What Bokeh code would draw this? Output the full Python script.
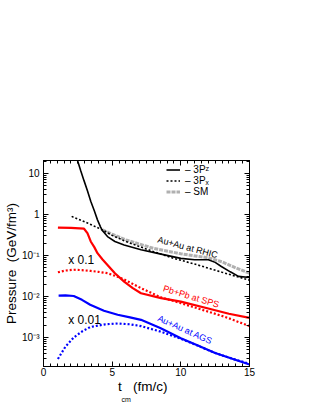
from bokeh.plotting import figure
from bokeh.models import (FixedTicker, LinearAxis, LogAxis, Range1d, Label,
                          Legend, LegendItem, CustomJSTickFormatter, Title)
from bokeh.embed import file_html
from bokeh.resources import INLINE
import math

FONT = "Liberation Sans"

# ---- data ----
rhic_3pz_t = [2.4, 2.7, 2.95, 3.2, 3.44, 3.7, 3.93, 4.15, 4.3, 4.66, 5.2, 5.87, 7.1, 8.56, 10, 11, 12, 12.5, 12.95, 13.6, 14.2, 15]
rhic_3pz_p = [25, 12, 6.7, 3.8, 2.1, 1.23, 0.74, 0.5, 0.40, 0.29, 0.22, 0.18, 0.138, 0.108, 0.085, 0.079, 0.079, 0.068, 0.054, 0.04, 0.031, 0.029]

rhic_3px_t = [2.05, 3.2, 4.3, 5.0, 6.0, 7.0, 8.0, 9.5, 11, 13, 15]
rhic_3px_p = [0.9, 0.62, 0.42, 0.31, 0.22, 0.165, 0.125, 0.085, 0.062, 0.039, 0.025]

rhic_sm_t = [4.3, 5.0, 6.0, 7.0, 8.0, 10, 12, 13, 14, 15]
rhic_sm_p = [0.42, 0.33, 0.24, 0.19, 0.15, 0.11, 0.088, 0.07, 0.05, 0.037]

sps_3pz_t = [1.05, 2.0, 2.95, 3.2, 3.44, 3.7, 3.93, 4.3, 4.66, 5.2, 5.87, 6.5, 7.1, 8.56, 10, 12, 13.5, 15]
sps_3pz_p = [0.48, 0.47, 0.45, 0.35, 0.22, 0.16, 0.114, 0.08, 0.059, 0.037, 0.023, 0.016, 0.012, 0.0091, 0.0075, 0.0051, 0.0038, 0.003]

sps_3px_t = [1.05, 1.6, 2.2, 2.8, 3.44, 4.0, 4.66, 5.2, 5.87, 7.1, 8.56, 10, 11.5, 13.2, 15]
sps_3px_p = [0.039, 0.043, 0.045, 0.044, 0.042, 0.04, 0.037, 0.032, 0.026, 0.016, 0.0095, 0.0069, 0.0048, 0.0032, 0.0019]

ags_3pz_t = [1.1, 1.6, 2.2, 2.8, 3.4, 4.4, 5.4, 6.3, 7.1, 8.5, 10, 11.2, 12.5, 13.8, 15]
ags_3pz_p = [0.0105, 0.0106, 0.0103, 0.0083, 0.0063, 0.0045, 0.0036, 0.0031, 0.0027, 0.0017, 0.00096, 0.00065, 0.00042, 0.0003, 0.00022]

ags_3px_t = [1.05, 1.6, 2.2, 2.8, 3.4, 4.5, 5.4, 6.3, 7.1, 8.5, 10, 11.5, 12.5, 13.8, 15]
ags_3px_p = [0.0003, 0.0006, 0.001, 0.0014, 0.0018, 0.0021, 0.0022, 0.0021, 0.0019, 0.0014, 0.00093, 0.00058, 0.00042, 0.0003, 0.00023]

x_ticks = [0, 5, 10, 15]
x_minor = [i * 0.5 for i in range(31)]
y_ticks = [1e-3, 1e-2, 1e-1, 1, 10]
y_tick_labels = {1e-3: "10\u207b\u00b3", 1e-2: "10\u207b\u00b2", 1e-1: "10\u207b\u00b9", 1: "1", 10: "10"}
y_minor = [m * 10.0 ** e for e in range(-4, 2) for m in range(1, 10)]

NB = "\u00a0"

# ---- figure ----
p = figure(width=300, height=409, output_backend="svg", toolbar_location=None,
           x_range=Range1d(0, 15), y_range=Range1d(10 ** -3.707, 10 ** 1.317),
           y_axis_type="log", min_border_left=43, min_border_right=51,
           min_border_top=160, min_border_bottom=43)
p.background_fill_color = "white"
p.border_fill_color = "white"
p.outline_line_color = "black"
p.outline_line_width = 1
p.xgrid.visible = False
p.ygrid.visible = False

def style_axis(ax, ticker, labels=True):
    ax.ticker = ticker
    ax.major_tick_in = 5
    ax.major_tick_out = 0
    ax.minor_tick_in = 3
    ax.minor_tick_out = 0
    ax.axis_line_color = "black"
    ax.major_tick_line_color = "black"
    ax.minor_tick_line_color = "black"
    ax.major_label_text_font = FONT
    ax.major_label_text_font_size = "10px"
    ax.major_label_text_color = "black"
    if not labels:
        ax.formatter = CustomJSTickFormatter(code="return '';")

xa = p.xaxis[0]
style_axis(xa, FixedTicker(ticks=x_ticks, minor_ticks=x_minor))
xa.major_label_standoff = 1
xa.axis_label = "t" + NB * 3 + "(fm/c)" + NB * 2
xa.axis_label_text_font = FONT
xa.axis_label_text_font_style = "normal"
xa.axis_label_text_font_size = "13.5px"
xa.axis_label_text_color = "black"
xa.axis_label_standoff = 0

ya = p.yaxis[0]
style_axis(ya, FixedTicker(ticks=y_ticks, minor_ticks=y_minor))
ya.major_label_overrides = y_tick_labels
ya.major_label_standoff = 4

top = LinearAxis()
style_axis(top, FixedTicker(ticks=x_ticks, minor_ticks=x_minor), labels=False)
p.add_layout(top, "above")
right = LogAxis()
style_axis(right, FixedTicker(ticks=y_ticks, minor_ticks=y_minor), labels=False)
p.add_layout(right, "right")

# subscript of the x title and the y title (side panels)
p.add_layout(Title(text="cm", align="left", offset=78, standoff=-13, text_color="black",
                   text_font=FONT, text_font_size="7px", text_font_style="normal"), "below")
p.add_layout(Title(text="Pressure" + NB * 2 + "(GeV/fm\u00b3)", align="center", standoff=2,
                   text_color="black", text_font=FONT, text_font_size="13.5px",
                   text_font_style="normal"), "left")

# ---- curves ----
r_sm = p.line(rhic_sm_t, rhic_sm_p, line_color="#b0b0b0", line_width=3, line_dash="4 1")
r_pz = p.line(rhic_3pz_t, rhic_3pz_p, line_color="black", line_width=1.6)
r_px = p.line(rhic_3px_t, rhic_3px_p, line_color="black", line_width=1.6, line_dash="2 2")

p.line(sps_3px_t, sps_3px_p, line_color="red", line_width=2.2, line_dash="2 2")
p.line(sps_3pz_t, sps_3pz_p, line_color="red", line_width=2.2)

p.line(ags_3px_t, ags_3px_p, line_color="blue", line_width=2.2, line_dash="2 2")
p.line(ags_3pz_t, ags_3pz_p, line_color="blue", line_width=2.2)

# ---- legend ----
legend = Legend(items=[LegendItem(label="\u2013 3P\u1dbb", renderers=[r_pz]),
                       LegendItem(label="\u2013 3P\u2093", renderers=[r_px]),
                       LegendItem(label="\u2013 SM", renderers=[r_sm])],
                location=(123, 169), orientation="vertical",
                background_fill_alpha=0, border_line_color=None,
                label_text_font=FONT, label_text_font_size="10px",
                label_text_color="black",
                glyph_width=14, glyph_height=9, label_height=9,
                label_standoff=5, spacing=0, padding=0, margin=0)
p.add_layout(legend)

# ---- annotations ----
def lab(x, y, text, color="black", size="9px", angle=0.0, align="center"):
    p.add_layout(Label(x=x, y=y, text=text, text_color=color, text_font=FONT,
                       text_font_size=size, angle=angle, text_align=align,
                       text_baseline="middle"))

lab(10.5, 0.158, "Au+Au at RHIC", angle=-math.radians(15))
lab(10.75, 0.0100, "Pb+Pb at SPS", color="red", angle=-math.radians(17))
lab(10.3, 0.00155, "Au+Au at AGS", color="blue", angle=-math.radians(24))
lab(1.8, 0.079, "x 0.1", size="12px", align="left")
lab(1.8, 0.0027, "x 0.01", size="12px", align="left")

open("out.html", "w").write(file_html(p, INLINE))
